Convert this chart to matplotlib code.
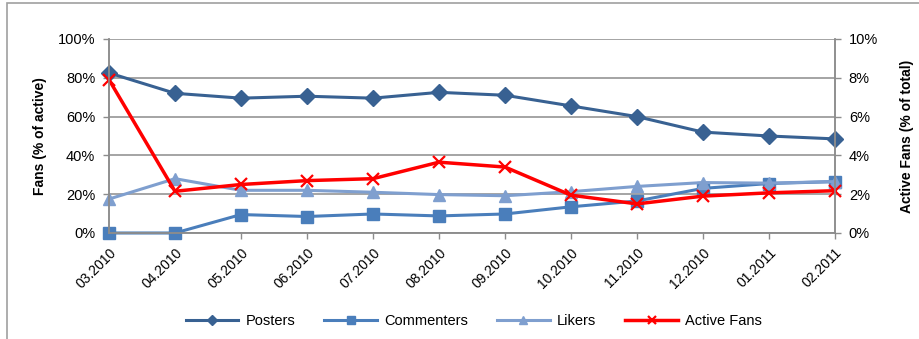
import numpy as np
import matplotlib
matplotlib.use("Agg")
import matplotlib.pyplot as plt
from matplotlib.patches import Rectangle
from matplotlib.ticker import FuncFormatter

months = ["03.2010", "04.2010", "05.2010", "06.2010", "07.2010", "08.2010",
          "09.2010", "10.2010", "11.2010", "12.2010", "01.2011", "02.2011"]
posters = [82.5, 72, 69.5, 70.5, 69.5, 72.5, 71, 65.5, 60, 52, 50, 48.5]
commenters = [0, 0, 9.5, 8.5, 9.8, 8.8, 9.8, 13.5, 16.5, 23, 25.5, 26.5]
likers = [17.5, 28, 22, 22, 21, 19.8, 19.2, 21.3, 24, 26, 25.7, 26.5]
active_fans = [7.9, 2.15, 2.5, 2.7, 2.8, 3.65, 3.4, 1.95, 1.5, 1.9, 2.07, 2.18]

GRID = "#8c8c8c"
C_POST = "#386192"
C_COMM = "#4a7ebb"
C_LIKE = "#7f9fcf"
C_ACT = "#ff0000"
FS = 10.5

plt.rcParams["font.family"] = ["Liberation Sans", "DejaVu Sans"]

fig = plt.figure(figsize=(9.2, 3.39), dpi=100)
# chart-area border (only top and left edges fall inside the canvas)
fig.patches.append(Rectangle((7 / 920, -0.1), 1.2, 1.1 - 3 / 339,
                             transform=fig.transFigure, fill=False,
                             edgecolor="#a0a0a0", linewidth=1.2))
ax = fig.add_axes([0.1185, 0.3127, 0.789, 0.5723])
x = np.arange(len(months))

ax.plot(x, posters, color=C_POST, lw=2.2, marker="D", ms=8, label="Posters",
        clip_on=False)
ax.plot(x, commenters, color=C_COMM, lw=2.2, marker="s", ms=9,
        label="Commenters", clip_on=False)
ax.plot(x, likers, color=C_LIKE, lw=2.2, marker="^", ms=9, label="Likers",
        clip_on=False)

ax2 = ax.twinx()
ax2.plot(x, active_fans, color=C_ACT, lw=2.5, marker="x", ms=8, mew=1.6,
         label="Active Fans", clip_on=False)

ax.set_xlim(0, len(months) - 1)
ax.set_ylim(0, 100)
ax2.set_ylim(0, 10)
ax.set_yticks(np.arange(0, 101, 20))
ax2.set_yticks(np.arange(0, 11, 2))
ax.yaxis.set_major_formatter(FuncFormatter(lambda v, p: f"{v:.0f}%"))
ax2.yaxis.set_major_formatter(FuncFormatter(lambda v, p: f"{v:.0f}%"))
ax.set_xticks(x)
ax.set_xticklabels(months, rotation=45, ha="right", rotation_mode="anchor",
                   fontsize=FS - 0.5)
ax.grid(axis="y", color=GRID, lw=1.1)
ax.set_axisbelow(True)

for a in (ax, ax2):
    for s in a.spines.values():
        s.set_color(GRID)
        s.set_linewidth(1.1)
    a.spines["top"].set_visible(False)
    a.tick_params(colors=GRID, labelcolor="black", labelsize=FS,
                  length=4, width=1, pad=6)
ax.tick_params(axis="x", pad=5, labelsize=FS - 0.5)

ax.set_ylabel("Fans (% of active)", fontsize=FS - 0.5, fontweight="bold",
              labelpad=8)
ax2.set_ylabel("Active Fans (% of total)", fontsize=FS - 0.5,
               fontweight="bold", labelpad=16)

h1, l1 = ax.get_legend_handles_labels()
h2, l2 = ax2.get_legend_handles_labels()
fig.legend(h1 + h2, l1 + l2, loc="center", bbox_to_anchor=(0.515, 0.053),
           ncol=4, frameon=False, fontsize=FS, handlelength=3.6,
           columnspacing=2.0, handletextpad=0.5, markerscale=0.65)

fig.savefig("out.png", dpi=100)
